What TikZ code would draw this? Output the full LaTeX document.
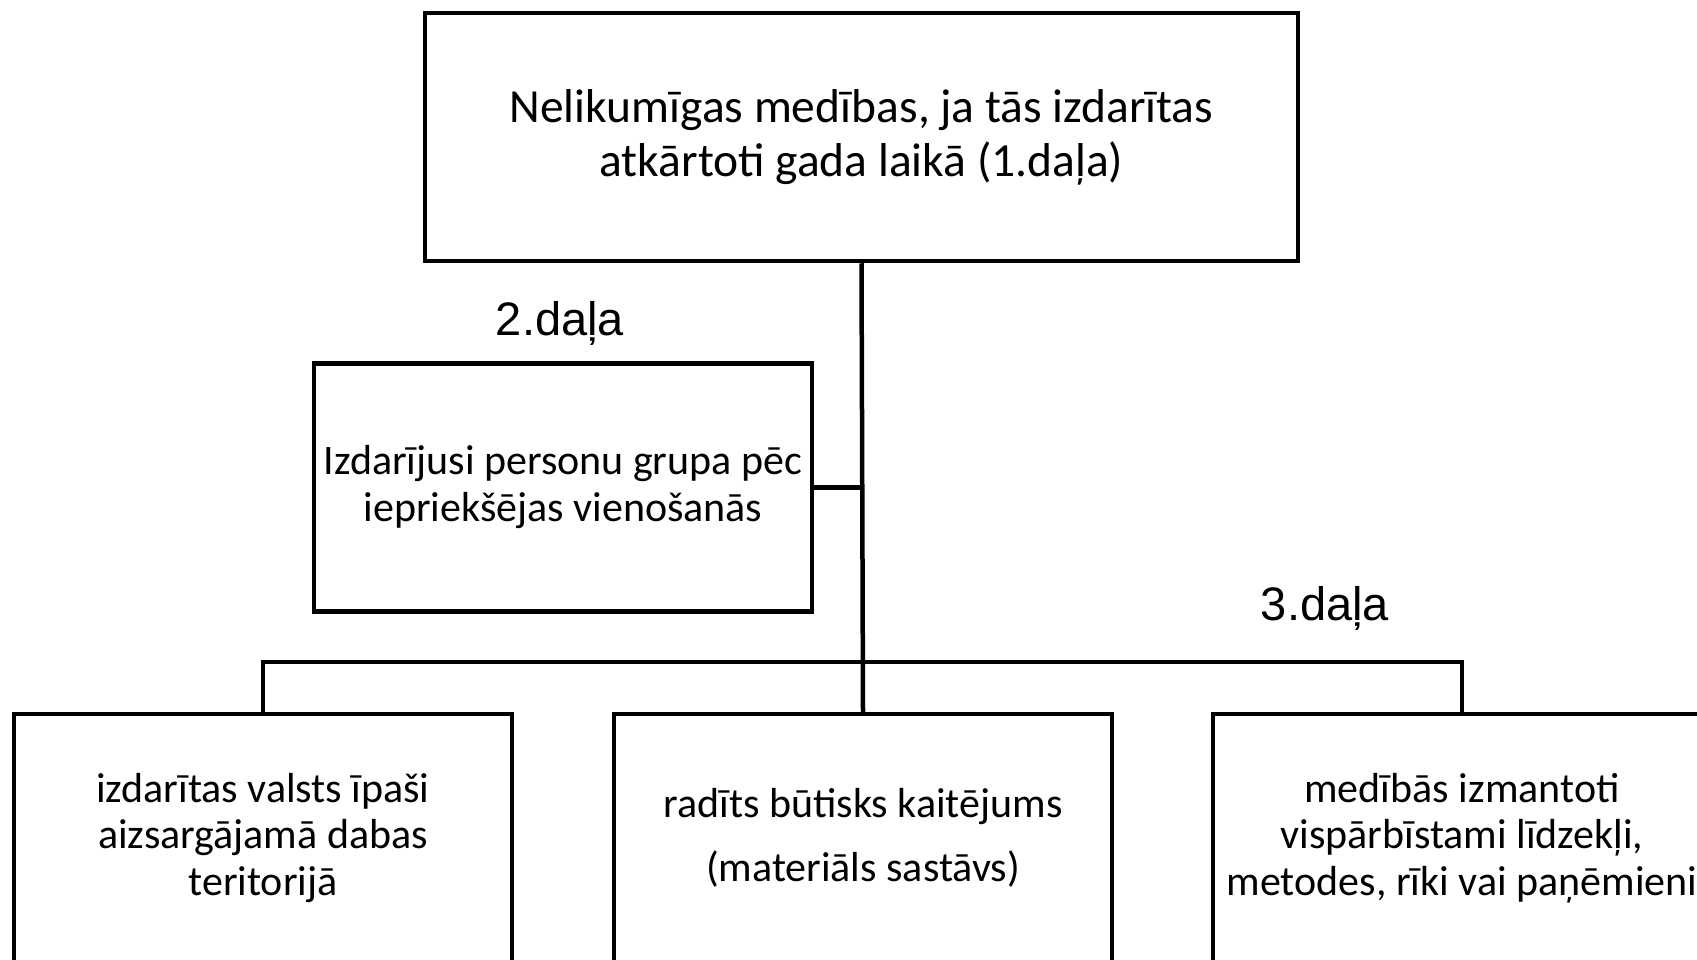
\documentclass[tikz,border=0pt]{standalone}
\usepackage{fontspec}
\setmainfont{Carlito}
\newfontfamily\arialf{Liberation Sans}
\begin{document}
\begin{tikzpicture}[x=1pt,y=-1pt,
  box/.style={draw=black,line width=4.5pt,align=center,inner sep=0pt,
    minimum width=498pt,minimum height=248pt},
  conn/.style={draw=black,line width=4.5pt},
  part/.style={font=\arialf\fontsize{47}{56}\selectfont}]
\useasboundingbox (0,0) rectangle (1697,960);
\clip (0,0) rectangle (1697,960);
\node[box,minimum width=873pt,font=\fontsize{47.5}{54}\selectfont] (top) at (861.5,137)
  {Nelikumīgas medības, ja tās izdarītas\\atkārtoti gada laikā (1.daļa)};
\node[box,font=\fontsize{42}{47}\selectfont] (p2) at (563,487.5)
  {Izdarījusi personu grupa pēc\\iepriekšējas vienošanās};
\node[part] (l2) at (560,323) {2.daļa};
\node[part] (l3) at (1325,608) {3.daļa};
\node[box,font=\fontsize{42}{46.5}\selectfont] (bA) at (263,838)
  {izdarītas valsts īpaši\\aizsargājamā dabas\\teritorijā};
\node[box,font=\fontsize{42}{46.5}\selectfont] (bB) at (863,838)
  {radīts būtisks kaitējums\\[18pt](materiāls sastāvs)};
\node[box,font=\fontsize{42}{46.5}\selectfont] (bC) at (1462,838)
  {medībās izmantoti\\vispārbīstami līdzekļi,\\metodes, rīki vai paņēmieni};
\coordinate (j) at (862,662);
\draw[conn] (top.south) -- (bB.north);
\draw[conn] (p2.east) -- (p2.east -| j);
\draw[conn] (bA.north) |- (j) -| (bC.north);
\end{tikzpicture}
\end{document}
